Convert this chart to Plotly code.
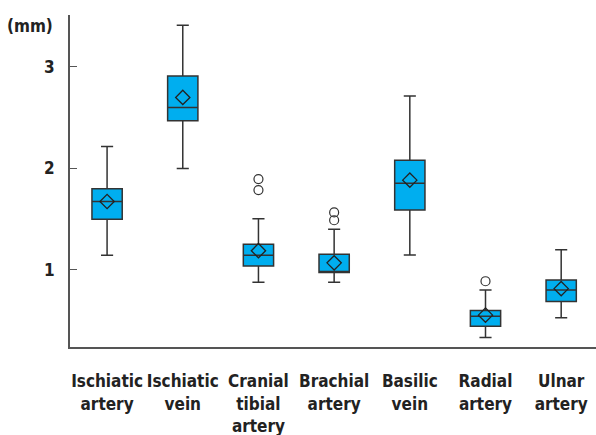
import plotly.graph_objects as go

categories = ["Ischiatic<br>artery", "Ischiatic<br>vein", "Cranial<br>tibial<br>artery",
              "Brachial<br>artery", "Basilic<br>vein", "Radial<br>artery", "Ulnar<br>artery"]
lower_whisker = [1.145, 2.00, 0.88, 0.88, 1.147, 0.334, 0.528]
q1_vals = [1.50, 2.47, 1.04, 0.975, 1.59, 0.446, 0.69]
median_vals = [1.675, 2.60, 1.145, 0.985, 1.855, 0.545, 0.803]
q3_vals = [1.80, 2.91, 1.253, 1.155, 2.08, 0.60, 0.90]
upper_whisker = [2.216, 3.41, 1.505, 1.40, 2.715, 0.803, 1.20]
mean_vals = [1.675, 2.70, 1.19, 1.07, 1.885, 0.555, 0.816]
outlier_cats = [categories[2], categories[2], categories[3], categories[3], categories[5]]
outlier_vals = [1.895, 1.787, 1.567, 1.49, 0.889]
y_ticks = [1, 2, 3]

FONT = "DejaVu Sans Condensed, Liberation Sans Narrow, Liberation Sans, sans-serif"

fig = go.Figure()
fig.add_trace(go.Box(
    x=categories, q1=q1_vals, median=median_vals, q3=q3_vals,
    lowerfence=lower_whisker, upperfence=upper_whisker,
    fillcolor="#00AEEF", line=dict(color="#333333", width=1.5),
    width=0.4, whiskerwidth=0.4, boxpoints=False, showlegend=False, hoverinfo="skip",
))
fig.add_trace(go.Scatter(
    x=categories, y=mean_vals, mode="markers",
    marker=dict(symbol="diamond-open", size=11, color="#222222", line=dict(width=1.3)),
    showlegend=False,
))
fig.add_trace(go.Scatter(
    x=outlier_cats, y=outlier_vals, mode="markers",
    marker=dict(symbol="circle-open", size=9, color="#333333", line=dict(width=1.2)),
    showlegend=False,
))

fig.update_layout(
    width=596, height=435,
    margin=dict(l=70, r=0, t=15, b=88),
    plot_bgcolor="white", paper_bgcolor="white",
    font=dict(family=FONT, color="#222222"),
    xaxis=dict(
        type="category", range=[-0.49, 6.46], automargin=False,
        showline=True, linecolor="#555555", linewidth=2,
        showgrid=False, zeroline=False,
        ticks="outside", ticklen=18, tickcolor="rgba(0,0,0,0)",
        tickfont=dict(size=17, family=FONT, weight="bold"),
    ),
    yaxis=dict(
        range=[0.241, 3.512], tickvals=y_ticks, ticktext=[str(t) for t in y_ticks],
        automargin=False,
        showline=True, linecolor="#555555", linewidth=2,
        showgrid=False, zeroline=False,
        ticks="inside", ticklen=7, tickcolor="#555555", tickwidth=1.3,
        tickfont=dict(size=17, weight="bold"),
        ticklabelstandoff=10,
    ),
    annotations=[dict(
        text="(mm)", xref="paper", yref="paper", x=-0.028, y=0.967,
        xanchor="right", yanchor="middle", showarrow=False,
        font=dict(size=17, weight="bold"),
    )],
)

fig.write_html("out.html", config={"displayModeBar": False},
               post_script="document.body.style.margin='0';")
